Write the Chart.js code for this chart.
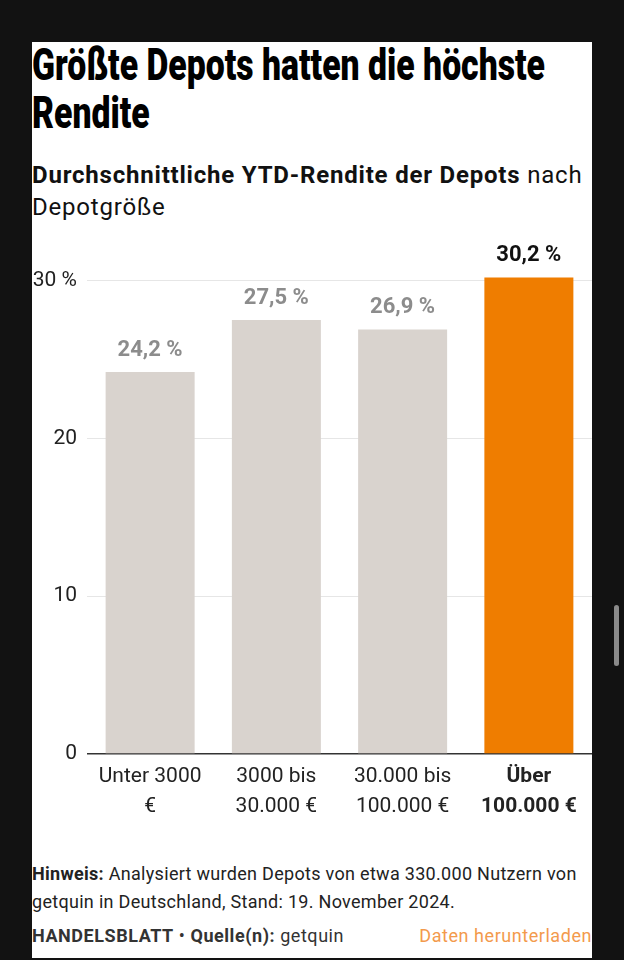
<!DOCTYPE html>
<html>
<head>
<meta charset="utf-8">
<script src="https://cdn.jsdelivr.net/npm/chart.js@4"></script>
<style>
  body { margin: 0; background: #121212; width: 624px; height: 960px; overflow: hidden; font-family: Roboto, "Noto Sans", sans-serif; }
  #card { position: absolute; left: 32px; top: 42px; width: 560px; height: 916px; background: #fff; }
  .title { position: absolute; left: 0; font-weight: 900; font-size: 45px; line-height: 48px; color: #000; white-space: nowrap; transform-origin: left top; }
  #subtitle { position: absolute; left: 0; top: 117px; width: 560px; font-size: 24px; line-height: 32px; letter-spacing: 0.8px; color: #111; }
  #canvasBox { position: absolute; left: 0; top: 183px; width: 560px; height: 605px; }
  #note { position: absolute; left: 0; top: 818px; width: 560px; font-size: 18px; line-height: 28px; letter-spacing: 0.3px; color: #222; }
  #source { position: absolute; left: 0; top: 880px; width: 560px; font-size: 18px; line-height: 28px; letter-spacing: 0.55px; color: #333; white-space: nowrap; }
  #source .dl { position: absolute; right: 0; top: 0; color: #f39a4c; }
  #scroll { position: absolute; left: 614px; top: 605px; width: 5px; height: 61px; border-radius: 3px; background: #8a8a8a; }
</style>
</head>
<body>
<div id="card">
  <div class="title" id="t1" style="top:-1px">Größte Depots hatten die höchste</div>
  <div class="title" id="t2" style="top:47px">Rendite</div>
  <div id="subtitle"><b>Durchschnittliche YTD-Rendite der Depots</b> nach Depotgröße</div>
  <div id="canvasBox"><canvas id="chart"></canvas></div>
  <div id="note"><b>Hinweis:</b> Analysiert wurden Depots von etwa 330.000 Nutzern von getquin in Deutschland, Stand: 19. November 2024.</div>
  <div id="source"><b>HANDELSBLATT</b> • <b>Quelle(n):</b> getquin<span class="dl">Daten herunterladen</span></div>
</div>
<div id="scroll"></div>
<script>
// Daten
const categories = [
  ["Unter 3000", "€"],
  ["3000 bis", "30.000 €"],
  ["30.000 bis", "100.000 €"],
  ["Über", "100.000 €"]
];
const rendite = [24.2, 27.5, 26.9, 30.2];
const yTicks = [0, 10, 20, 30];

// Titel schmal machen (kein Condensed-Font vorhanden)
const t1 = document.getElementById("t1");
const scale = 513 / t1.offsetWidth;
document.querySelectorAll(".title").forEach(el => { el.style.transform = "scaleX(" + scale + ")"; });

const highlight = 3; // letzte Kategorie hervorgehoben

// Werte ueber den Balken
const valueLabels = {
  id: "valueLabels",
  afterDatasetsDraw(chart) {
    const ctx = chart.ctx;
    const meta = chart.getDatasetMeta(0);
    ctx.save();
    ctx.textAlign = "center";
    ctx.textBaseline = "alphabetic";
    ctx.font = "bold 22px Roboto";
    meta.data.forEach((bar, i) => {
      ctx.fillStyle = i === highlight ? "#111" : "#8c8c8c";
      ctx.fillText(rendite[i].toFixed(1).replace(".", ",") + " %", bar.x, bar.y - 16);
    });
    ctx.restore();
  }
};

new Chart(document.getElementById("chart"), {
  type: "bar",
  data: {
    labels: categories,
    datasets: [{
      data: rendite,
      backgroundColor: rendite.map((v, i) => i === highlight ? "#ef7d00" : "#d9d3ce"),
      borderWidth: 0,
      categoryPercentage: 1,
      barPercentage: 0.705
    }]
  },
  options: {
    responsive: true,
    maintainAspectRatio: false,
    animation: false,
    layout: { padding: { top: 24, left: 0, right: 0, bottom: 0 } },
    plugins: { legend: { display: false }, tooltip: { enabled: false } },
    scales: {
      x: {
        grid: { display: false, drawTicks: false },
        border: { display: false },
        ticks: {
          padding: 8,
          color: "#222",
          font: (c) => ({ family: "Roboto", size: 21, lineHeight: "30px", weight: c.index === highlight ? "bold" : "normal" }),
          maxRotation: 0,
          autoSkip: false
        }
      },
      y: {
        min: 0,
        max: 32,
        afterFit: (s) => { s.width = 55; },
        afterBuildTicks: (s) => { s.ticks = yTicks.map(v => ({ value: v })); },
        grid: {
          drawTicks: false,
          color: (c) => c.tick && c.tick.value === 0 ? "#333" : "#e6e6e6",
          lineWidth: (c) => c.tick && c.tick.value === 0 ? 1.6 : 1
        },
        border: { display: false },
        ticks: {
          padding: 10,
          color: "#222",
          font: { family: "Roboto", size: 21 },
          callback: (v) => v === 30 ? "30 %" : String(v)
        }
      }
    }
  },
  plugins: [valueLabels]
});
</script>
</body>
</html>
